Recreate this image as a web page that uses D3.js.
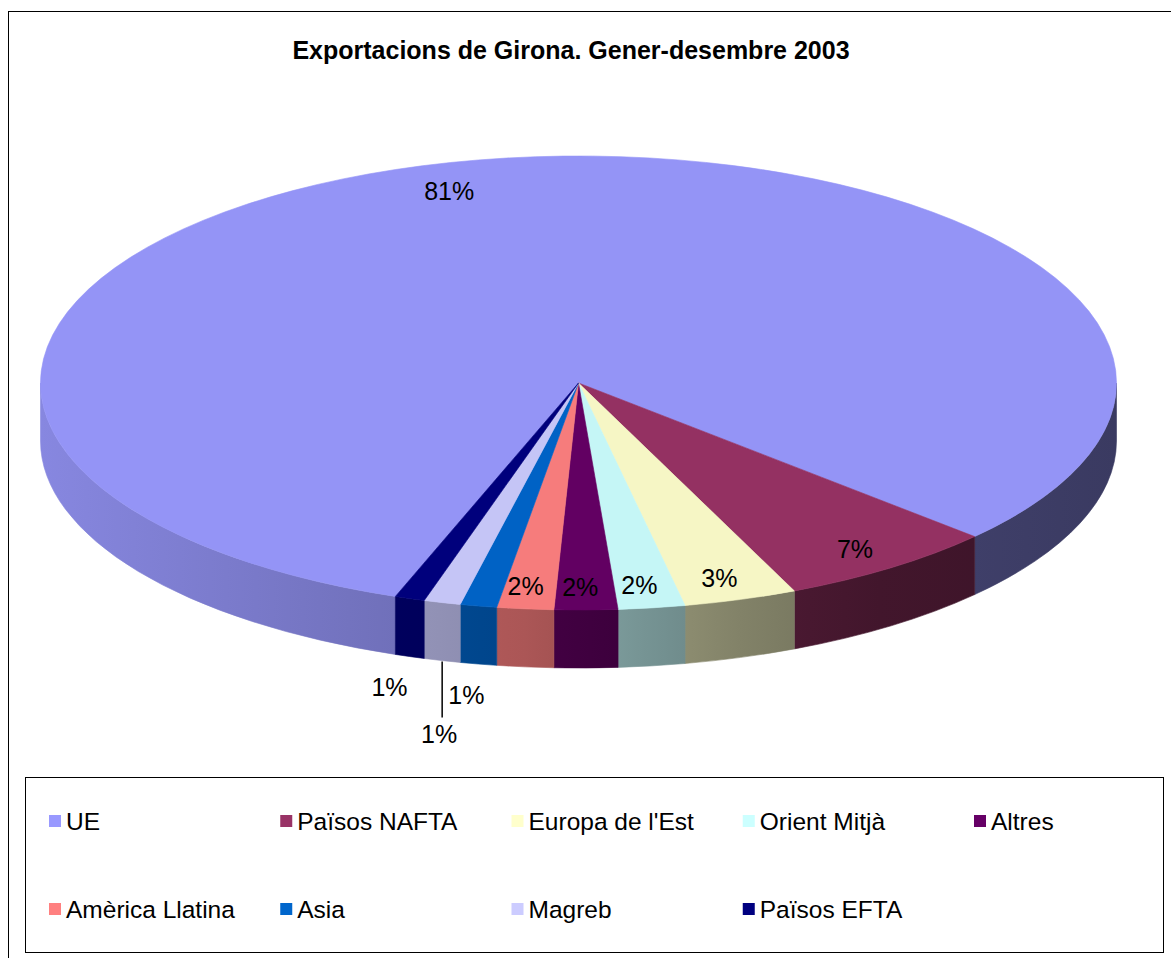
<!DOCTYPE html>
<html>
<head>
<meta charset="utf-8">
<style>
  body { margin: 0; background: #fff; }
  text { font-family: Arial, "Liberation Sans", sans-serif; fill: #000; }
</style>
<script src="https://d3js.org/d3.v7.min.js"></script>
</head>
<body>
<script>
// data (share of exports, %)
const regions = ["UE", "Països NAFTA", "Europa de l'Est", "Orient Mitjà", "Altres",
                 "Amèrica Llatina", "Asia", "Magreb", "Països EFTA"];
const shares = [81.3, 6.6, 3.4, 2.0, 1.9, 1.7, 1.1, 1.1, 0.9];
const colors = ["#9999FF", "#993366", "#FFFFCC", "#CCFFFF", "#660066",
                "#FF8080", "#0066CC", "#CCCCFF", "#000080"];
const title = "Exportacions de Girona. Gener-desembre 2003";

const W = 1171, H = 958;
const cx = 578.5, cy = 383, rx = 538, ry = 227, depth = 58;
const firstAngle = 199.9 * Math.PI / 180;

const svg = d3.select("body").append("svg")
    .attr("width", W).attr("height", H);

// outer chart frame
svg.append("rect")
    .attr("x", 8.5).attr("y", 11.5)
    .attr("width", 1180).attr("height", 970)
    .attr("fill", "none").attr("stroke", "#000").attr("stroke-width", 1);

function stext(g, x, y, str, size, weight, anchor) {
    return g.append("text")
        .attr("x", x).attr("y", y)
        .attr("text-anchor", anchor || "middle")
        .style("font-size", size + "px")
        .style("font-weight", weight || "normal")
        .text(str);
}

stext(svg, 571, 59, title, 25, "bold");

const pie = d3.pie().sort(null).value(d => d)
    .startAngle(firstAngle).endAngle(firstAngle + 2 * Math.PI);
const arcs = pie(shares);

const pt = (a, dy = 0, f = 1) => [cx + rx * f * Math.sin(a), cy - ry * f * Math.cos(a) + dy];

// side gradient: lighter on the left, dark on the right
const shade = [[0, 0.88], [0.33, 0.73], [0.45, 0.67], [0.56, 0.58], [0.65, 0.51], [0.78, 0.43], [1, 0.38]];
const defs = svg.append("defs");
colors.forEach((c, i) => {
    const g = defs.append("linearGradient").attr("id", "side" + i)
        .attr("gradientUnits", "userSpaceOnUse")
        .attr("x1", cx - rx).attr("x2", cx + rx).attr("y1", 0).attr("y2", 0);
    const base = d3.rgb(c);
    shade.forEach(([o, k]) => {
        g.append("stop").attr("offset", o)
            .attr("stop-color", d3.rgb(base.r * k, base.g * k, base.b * k).formatHex());
    });
});

// front walls
const fronts = [[Math.PI / 2, 3 * Math.PI / 2], [5 * Math.PI / 2, 7 * Math.PI / 2]];
const sides = svg.append("g");
arcs.forEach((d, i) => {
    fronts.forEach(([f0, f1]) => {
        const b0 = Math.max(d.startAngle, f0), b1 = Math.min(d.endAngle, f1);
        if (b1 <= b0) return;
        const p0 = pt(b0), p1 = pt(b1), q1 = pt(b1, depth), q0 = pt(b0, depth);
        sides.append("path")
            .attr("d", `M${p0}A${rx},${ry} 0 0 1 ${p1}L${q1}A${rx},${ry} 0 0 0 ${q0}Z`)
            .attr("fill", `url(#side${i})`)
            .attr("stroke", `url(#side${i})`).attr("stroke-width", 0.6);
    });
});

// top faces
const tops = svg.append("g");
arcs.forEach((d, i) => {
    const p0 = pt(d.startAngle), p1 = pt(d.endAngle);
    const large = d.endAngle - d.startAngle > Math.PI ? 1 : 0;
    const base = d3.rgb(colors[i]);
    const k = 0.965;
    const col = d3.rgb(base.r * k, base.g * k, base.b * k).formatHex();
    tops.append("path")
        .attr("d", `M${cx},${cy}L${p0}A${rx},${ry} 0 ${large} 1 ${p1}Z`)
        .attr("fill", col).attr("stroke", col).attr("stroke-width", 0.6);
});

// percentage labels
const labels = svg.append("g");
const fmt = v => Math.round(v) + "%";
arcs.forEach((d, i) => {
    const mid = (d.startAngle + d.endAngle) / 2;
    const v = d.value;
    if (regions[i] === "Magreb") {
        // pushed below with a leader line
        const [x0, y0] = pt(mid, depth);
        labels.append("line")
            .attr("x1", x0).attr("x2", x0).attr("y1", y0 + 1).attr("y2", y0 + 57)
            .attr("stroke", "#000").attr("stroke-width", 1.5);
        stext(labels, x0 - 3, y0 + 82, fmt(v), 25);
    } else if (v < 1.5) {
        const x = cx + rx * 1.12 * Math.sin(mid);
        const y = cy + depth - ry * 1.14 * Math.cos(mid);
        stext(labels, x, y + 9, fmt(v), 25);
    } else {
        const [x, y] = pt(mid, 0, i === 0 ? 0.87 : 0.9);
        stext(labels, i === 0 ? x - 18 : x - 5, y + 9, fmt(v), 25);
    }
});

// legend
svg.append("rect")
    .attr("x", 25.5).attr("y", 777.5).attr("width", 1138).attr("height", 175)
    .attr("fill", "none").attr("stroke", "#000").attr("stroke-width", 1);

const colX = d3.scalePoint().domain(d3.range(5)).range([49, 974]);
const rowY = d3.scalePoint().domain([0, 1]).range([815, 903]);
const leg = svg.append("g");
regions.forEach((r, i) => {
    const x = colX(i % 5), y = rowY(Math.floor(i / 5));
    leg.append("rect").attr("x", x).attr("y", y).attr("width", 12).attr("height", 12)
        .attr("fill", colors[i]);
    stext(leg, x + 17, y + 15, r, 24.5, "normal", "start");
});
</script>
</body>
</html>
